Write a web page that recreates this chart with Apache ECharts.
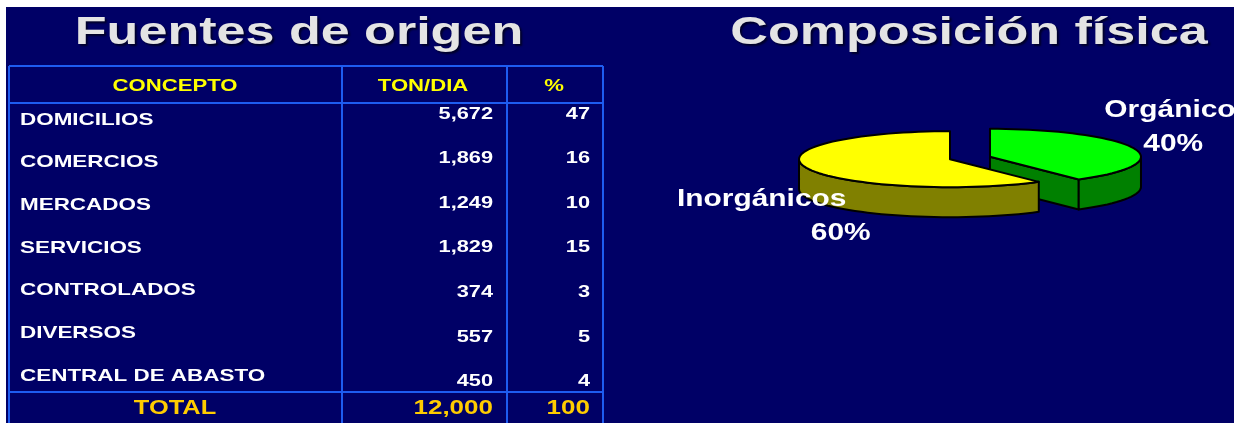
<!DOCTYPE html>
<html>
<head>
<meta charset="utf-8">
<script src="https://cdn.jsdelivr.net/npm/echarts@6/dist/echarts.min.js"></script>
<style>
  html, body { margin: 0; padding: 0; background: #fff; }
  #main { width: 1234px; height: 423px; }
</style>
</head>
<body>
<div id="main"></div>
<script>
// datos de la tabla
const encabezados = ['CONCEPTO', 'TON/DIA', '%'];
const conceptos = ['DOMICILIOS', 'COMERCIOS', 'MERCADOS', 'SERVICIOS', 'CONTROLADOS', 'DIVERSOS', 'CENTRAL DE ABASTO'];
const tonDia = [5672, 1869, 1249, 1829, 374, 557, 450];
const porcentaje = [47, 16, 10, 15, 3, 5, 4];
const totalTon = 12000;
const totalPct = 100;

// datos del pastel
const composicion = ['Inorgánicos', 'Orgánicos'];
const composicionPct = [60, 40];

const titulos = ['Fuentes de origen', 'Composición física'];

const FONT = '"Liberation Sans", Arial, sans-serif';
const fmt = n => n.toLocaleString('en-US');

let chart = echarts.init(document.getElementById('main'));

// ======================== tabla ========================
const colX = [9, 342, 507, 603];
const headX = [175, 423, 554];
const lineColor = '#1e5cf0';
const g = [];

g.push({ type: 'rect', z: 0, shape: { x: 6, y: 7, width: 1228, height: 416 }, style: { fill: '#000066' } });

// titulos
[299, 969].forEach((cx, i) => {
  g.push({
    type: 'text', z: 2, x: cx, y: 34, scaleX: 1.37,
    style: {
      text: titulos[i], font: 'bold 38px ' + FONT, fill: '#e4e4e4',
      align: 'center', verticalAlign: 'middle',
      textShadowColor: 'rgba(0,0,0,0.6)', textShadowOffsetX: 2, textShadowOffsetY: 2, textShadowBlur: 2
    }
  });
});

// lineas
colX.forEach(x => {
  g.push({ type: 'line', z: 1, shape: { x1: x, y1: 66, x2: x, y2: 423 }, style: { stroke: lineColor, lineWidth: 2 } });
});
[66, 103, 392].forEach(y => {
  g.push({ type: 'line', z: 1, shape: { x1: colX[0], y1: y, x2: colX[3], y2: y }, style: { stroke: lineColor, lineWidth: 2 } });
});

function txt (text, x, y, align, size, color, sx) {
  return {
    type: 'text', z: 2, x: x, y: y, scaleX: sx,
    style: { text: text, font: 'bold ' + size + 'px ' + FONT, fill: color, align: align, verticalAlign: 'middle' }
  };
}

encabezados.forEach((h, i) => g.push(txt(h, headX[i], 86, 'center', 17, '#ffff00', 1.3)));

conceptos.forEach((c, i) => {
  g.push(txt(c, 20, 120 + i * 42.7, 'left', 17, '#ffffff', 1.32));
  g.push(txt(fmt(tonDia[i]), 493, 114 + i * 44.6, 'right', 17, '#ffffff', 1.28));
  g.push(txt(String(porcentaje[i]), 590, 114 + i * 44.6, 'right', 17, '#ffffff', 1.28));
});

g.push(txt('TOTAL', 175, 408, 'center', 20, '#ffcc00', 1.27));
g.push(txt(fmt(totalTon), 493, 408, 'right', 20, '#ffcc00', 1.3));
g.push(txt(String(totalPct), 590, 408, 'right', 20, '#ffcc00', 1.3));

// ======================== pastel 3D ========================
const topColors = ['#ffff00', '#00ff00'];
const sideColors = ['#808000', '#008000'];
const CX = 970, CY = 158, RX = 151, RY = 28, DEPTH = 30, EXPLODE = 21;
const rad = d => d * Math.PI / 180;
const sumPct = composicionPct.reduce((a, b) => a + b, 0);

function renderSlice (params, api) {
  const i = params.dataIndex;
  let cum = 0;
  for (let k = 0; k < i; k++) cum += composicionPct[k];
  const s = 90 + 360 * cum / sumPct;
  const e = s + 360 * api.value(0) / sumPct;
  const mid = (s + e) / 2;
  const cx = CX + EXPLODE * Math.cos(rad(mid));
  const cy = CY - EXPLODE * (RY / RX) * Math.sin(rad(mid));
  const pt = (a, d) => [cx + RX * Math.cos(rad(a)), cy - RY * Math.sin(rad(a)) + (d || 0)];
  const arc = (a1, a2, d) => {
    const pts = [];
    const n = Math.max(4, Math.ceil(Math.abs(a2 - a1) / 3));
    for (let k = 0; k <= n; k++) pts.push(pt(a1 + (a2 - a1) * k / n, d));
    return pts;
  };
  const base = Math.sin(rad(mid)) > 0 ? 0 : 10;
  const stroke = { stroke: '#000', lineWidth: 2, lineJoin: 'round' };
  const children = [];

  // caras radiales
  if (Math.cos(rad(s)) > 0.01) {
    const p = pt(s);
    children.push({ type: 'polygon', z2: base, shape: { points: [[cx, cy], p, [p[0], p[1] + DEPTH], [cx, cy + DEPTH]] },
      style: Object.assign({ fill: sideColors[i] }, stroke) });
  }
  if (Math.cos(rad(e)) < -0.01) {
    const p = pt(e);
    children.push({ type: 'polygon', z2: base, shape: { points: [[cx, cy], p, [p[0], p[1] + DEPTH], [cx, cy + DEPTH]] },
      style: Object.assign({ fill: sideColors[i] }, stroke) });
  }
  // pared exterior (parte frontal)
  [[180, 360], [540, 720]].forEach(([f1, f2]) => {
    const a1 = Math.max(s, f1), a2 = Math.min(e, f2);
    if (a2 > a1) {
      const pts = arc(a1, a2, 0).concat(arc(a2, a1, DEPTH));
      children.push({ type: 'polygon', z2: base + 1, shape: { points: pts },
        style: Object.assign({ fill: sideColors[i] }, stroke) });
    }
  });
  // cara superior
  children.push({ type: 'polygon', z2: base + 2, shape: { points: [[cx, cy]].concat(arc(s, e, 0)) },
    style: Object.assign({ fill: topColors[i] }, stroke) });

  // etiquetas
  const nx = cx + 198 * Math.cos(rad(mid));
  const ny = cy - 141 * Math.sin(rad(mid)) - 3;
  const px = nx + (Math.cos(rad(mid)) < 0 ? 79 : -5);
  const lab = (t, x, y) => ({
    type: 'text', z2: 30, x: x, y: y, scaleX: 1.3,
    style: { text: t, font: 'bold 23px ' + FONT, fill: '#ffffff', align: 'center', verticalAlign: 'middle' }
  });
  children.push(lab(composicion[i], nx, ny));
  children.push(lab(api.value(0) + '%', px, ny + 34));

  return { type: 'group', children: children };
}

chart.setOption({
  backgroundColor: '#ffffff',
  animation: false,
  graphic: g,
  series: [{
    type: 'custom',
    coordinateSystem: 'none',
    silent: true,
    z: 5,
    renderItem: renderSlice,
    data: composicionPct.map((v, i) => ({ name: composicion[i], value: [v] }))
  }]
});

window.addEventListener('resize', function () {
  chart.resize();
});
</script>
</body>
</html>
